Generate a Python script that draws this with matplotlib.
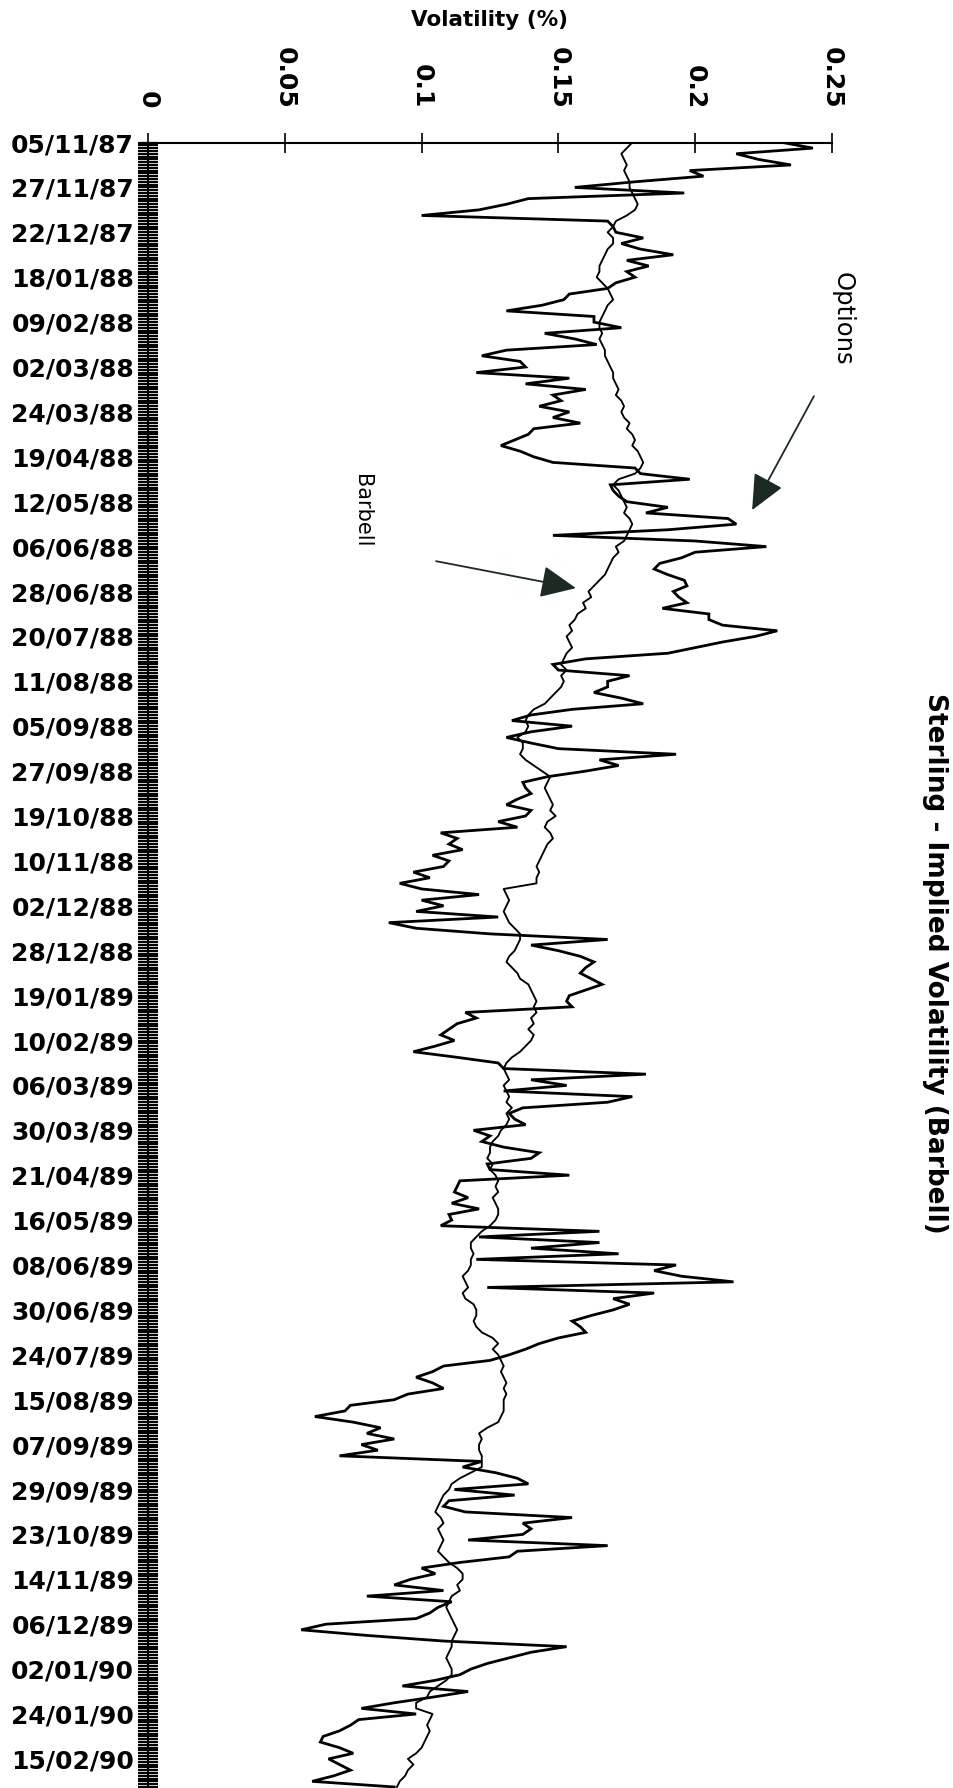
import numpy as np
import matplotlib
matplotlib.use("Agg")
import matplotlib.pyplot as plt
from matplotlib.ticker import FixedLocator, MultipleLocator

plt.rcParams['font.family'] = ['DejaVu Sans']

# ---------------- data (sampled every 2 trading days) ----------------
date_labels = ["05/11/87", "27/11/87", "22/12/87", "18/01/88", "09/02/88", "02/03/88",
               "24/03/88", "19/04/88", "12/05/88", "06/06/88", "28/06/88", "20/07/88",
               "11/08/88", "05/09/88", "27/09/88", "19/10/88", "10/11/88", "02/12/88",
               "28/12/88", "19/01/89", "10/02/89", "06/03/89", "30/03/89", "21/04/89",
               "16/05/89", "08/06/89", "30/06/89", "24/07/89", "15/08/89", "07/09/89",
               "29/09/89", "23/10/89", "14/11/89", "06/12/89", "02/01/90", "24/01/90",
               "15/02/90"]

value_ticks = [0, 0.05, 0.1, 0.15, 0.2, 0.25]
value_tick_labels = ["0", "0.05", "0.1", "0.15", "0.2", "0.25"]

options = [
    0.232, 0.243, 0.215, 0.223, 0.235, 0.198, 0.203, 0.178, 0.156, 0.196,
    0.139, 0.131, 0.121, 0.100, 0.168, 0.170, 0.171, 0.181, 0.173, 0.180,
    0.192, 0.175, 0.183, 0.175, 0.178, 0.171, 0.168, 0.154, 0.152, 0.144,
    0.131, 0.163,
    0.163, 0.173, 0.145, 0.156, 0.164, 0.131, 0.122, 0.136,
    0.138, 0.120, 0.154, 0.138, 0.160, 0.148, 0.151, 0.143, 0.154, 0.148,
    0.158, 0.141, 0.139, 0.134, 0.129, 0.136, 0.141, 0.148, 0.178, 0.180,
    0.198, 0.169, 0.170, 0.172,
    0.175, 0.190, 0.182, 0.212, 0.215, 0.190,
    0.148, 0.200, 0.226, 0.200, 0.195, 0.187, 0.185, 0.190, 0.196, 0.197,
    0.192, 0.194, 0.197, 0.188, 0.205, 0.205, 0.210, 0.230, 0.222, 0.210,
    0.200, 0.190, 0.160, 0.148, 0.150, 0.176,
    0.168, 0.168, 0.163, 0.173,
    0.181, 0.155, 0.140, 0.133, 0.155, 0.140, 0.131, 0.140, 0.150, 0.193,
    0.165, 0.172, 0.160, 0.146, 0.137, 0.138, 0.140, 0.135, 0.131, 0.140,
    0.138, 0.128, 0.135, 0.107, 0.113, 0.110, 0.115, 0.104,
    0.110, 0.108,
    0.097, 0.103, 0.092, 0.100, 0.121, 0.100, 0.108, 0.098, 0.128, 0.088,
    0.098, 0.125, 0.168, 0.140, 0.150, 0.158, 0.163, 0.160, 0.158, 0.162,
    0.166, 0.160, 0.154, 0.153, 0.155, 0.116, 0.120, 0.113, 0.110, 0.107,
    0.112, 0.105, 0.097, 0.113, 0.128, 0.130, 0.182, 0.140, 0.153, 0.130,
    0.177, 0.168, 0.137, 0.132, 0.134, 0.138, 0.119, 0.125, 0.122, 0.130,
    0.143, 0.140, 0.124, 0.125, 0.154, 0.114, 0.113, 0.112, 0.117, 0.111,
    0.121,
    0.110, 0.111, 0.107, 0.165, 0.121, 0.165, 0.140, 0.172, 0.120,
    0.193, 0.185, 0.195, 0.214, 0.124, 0.185, 0.170, 0.176, 0.170, 0.162,
    0.155, 0.158, 0.160, 0.150, 0.143, 0.138, 0.132, 0.125, 0.108, 0.104,
    0.098, 0.104, 0.108, 0.095, 0.090,
    0.074, 0.072, 0.061, 0.075, 0.085,
    0.080, 0.090, 0.078, 0.084, 0.070, 0.122, 0.115, 0.127, 0.135, 0.139,
    0.112, 0.134, 0.110, 0.108, 0.116, 0.155, 0.137, 0.140, 0.137, 0.117,
    0.168, 0.135, 0.132, 0.114, 0.100, 0.105, 0.096,
    0.090, 0.108, 0.080,
    0.111, 0.106, 0.103, 0.098, 0.065, 0.056, 0.080, 0.108, 0.153, 0.140,
    0.132, 0.124, 0.118, 0.114, 0.105, 0.093, 0.117, 0.104, 0.090, 0.078,
    0.098, 0.077, 0.074, 0.070, 0.064, 0.063, 0.070, 0.075, 0.066, 0.070,
    0.074, 0.068, 0.060, 0.090,
]

barbell = [
    0.177, 0.175, 0.173, 0.174, 0.175, 0.174, 0.175, 0.176, 0.176, 0.177,
    0.178, 0.179, 0.178, 0.175, 0.171, 0.170, 0.168, 0.170, 0.170, 0.168,
    0.167, 0.166, 0.165, 0.165, 0.164, 0.166, 0.168, 0.169, 0.170, 0.168,
    0.167, 0.166,
    0.165, 0.165, 0.166, 0.165, 0.166, 0.167, 0.167, 0.168,
    0.169, 0.170, 0.170, 0.171, 0.172, 0.171, 0.173, 0.174, 0.173, 0.174,
    0.176, 0.175, 0.177, 0.178, 0.177, 0.179, 0.180, 0.181, 0.180, 0.178,
    0.172, 0.170, 0.172, 0.173,
    0.174, 0.175, 0.174, 0.176, 0.177, 0.176,
    0.175, 0.174, 0.171, 0.172, 0.170, 0.169, 0.168, 0.167, 0.165, 0.163,
    0.161, 0.162, 0.159, 0.160, 0.157, 0.156, 0.154, 0.155, 0.153, 0.154,
    0.155, 0.153, 0.152, 0.151, 0.153, 0.151,
    0.152, 0.151, 0.149, 0.147,
    0.145, 0.141, 0.139, 0.138, 0.139, 0.138, 0.135, 0.137, 0.137, 0.136,
    0.138, 0.141, 0.144, 0.147, 0.146, 0.145, 0.146, 0.147, 0.148, 0.147,
    0.149, 0.146, 0.145, 0.147, 0.148, 0.146, 0.145, 0.144,
    0.143, 0.142,
    0.143, 0.142, 0.142, 0.130, 0.131, 0.132, 0.131, 0.130, 0.131, 0.132,
    0.134, 0.136, 0.136, 0.135, 0.134, 0.132, 0.131, 0.133, 0.135, 0.136,
    0.139, 0.140, 0.141, 0.142, 0.141, 0.142, 0.140, 0.141, 0.139, 0.141,
    0.140, 0.138, 0.136, 0.133, 0.131, 0.130, 0.131, 0.132, 0.130, 0.131,
    0.132, 0.131, 0.133, 0.131, 0.132, 0.131, 0.129, 0.128, 0.126, 0.125,
    0.125, 0.124, 0.126, 0.125, 0.127, 0.128, 0.127, 0.128, 0.126, 0.127,
    0.128,
    0.128, 0.127, 0.125, 0.122, 0.120, 0.118, 0.118, 0.119, 0.118,
    0.118, 0.117, 0.115, 0.116, 0.117, 0.115, 0.116, 0.119, 0.120, 0.120,
    0.119, 0.120, 0.122, 0.126, 0.128, 0.126, 0.128, 0.129, 0.130, 0.129,
    0.130, 0.131, 0.130, 0.131, 0.130,
    0.130, 0.130, 0.129, 0.128, 0.124,
    0.121, 0.122, 0.121, 0.121, 0.122, 0.122, 0.122, 0.118, 0.114, 0.111,
    0.110, 0.108, 0.107, 0.106, 0.105, 0.107, 0.108, 0.106, 0.107, 0.108,
    0.107, 0.106, 0.108, 0.110, 0.113, 0.115, 0.115,
    0.113, 0.114, 0.111,
    0.110, 0.109, 0.110, 0.111, 0.112, 0.113, 0.112, 0.111, 0.111, 0.110,
    0.109, 0.110, 0.111, 0.111, 0.109, 0.106, 0.103, 0.102, 0.098, 0.098,
    0.104, 0.103, 0.102, 0.103, 0.102, 0.101, 0.100, 0.098, 0.095, 0.097,
    0.095, 0.094, 0.092, 0.091,
]

DAYS_PER_SAMPLE = 2
DAYS_PER_LABEL = 16

# ---------------- figure ----------------
W, H = 954, 1788
fig = plt.figure(figsize=(W / 100, H / 100), dpi=100)
fig.patch.set_facecolor("white")

ax_left, ax_right, ax_top = 148 / W, 832 / W, 1 - 142.5 / H
ax = fig.add_axes([ax_left, 0.0, ax_right - ax_left, ax_top])

t_opt = np.arange(len(options)) * DAYS_PER_SAMPLE
t_bar = np.arange(len(barbell)) * DAYS_PER_SAMPLE
ax.plot(options, t_opt, color="black", lw=2.0, solid_joinstyle="miter")
ax.plot(barbell, t_bar, color="black", lw=1.35)

px_per_day = 44.9 / DAYS_PER_LABEL
ax.set_ylim((H - 142.5) / px_per_day, 0)
ax.set_xlim(0, 0.25)

# value axis on top
ax.xaxis.tick_top()
ax.xaxis.set_major_locator(FixedLocator(value_ticks))
ax.set_xticklabels(value_tick_labels, rotation=-90, fontsize=18, fontweight="bold")
ax.tick_params(axis="x", which="major", direction="inout", length=14.5, width=1.2,
               pad=17, top=True, bottom=False)
for lab in ax.get_xticklabels():
    lab.set_va("bottom")
    lab.set_ha("center")

# date axis on left
label_pos = np.arange(len(date_labels)) * DAYS_PER_LABEL
ax.yaxis.set_major_locator(FixedLocator(label_pos))
ax.set_yticklabels(date_labels, fontsize=18, fontweight="bold")
ax.yaxis.set_minor_locator(MultipleLocator(1))
ax.tick_params(axis="y", which="both", direction="inout", length=15, width=1.6,
               left=True, right=False)
ax.tick_params(axis="y", which="major", pad=2.5)

for side in ["right", "bottom"]:
    ax.spines[side].set_visible(False)
ax.spines["top"].set_linewidth(1.5)
ax.spines["left"].set_linewidth(1.5)

# arrows and annotations
arrow_kw = dict(arrowstyle="-|>,head_length=1.1,head_width=0.5", color="#1c2a24",
                lw=1.3, mutation_scale=20, shrinkA=0, shrinkB=0)
ax.annotate("", xy=(0.2208, 131), xytext=(0.2434, 90.4), arrowprops=arrow_kw)
ax.annotate("", xy=(0.1564, 158.8), xytext=(0.1053, 149.2), arrowprops=arrow_kw)

fig.text(843 / W, 1 - 319 / H, "Options", rotation=-90, ha="center", va="center",
         fontsize=17.5)
fig.text(362 / W, 1 - 511 / H, "Barbell", rotation=-90, ha="center", va="center",
         fontsize=15)
fig.text(490 / W, 1 - 20 / H, "Volatility (%)", ha="center", va="center",
         fontsize=15.5, fontweight="bold")
fig.text(935 / W, 1 - 963 / H, "Sterling - Implied Volatility (Barbell)", rotation=-90,
         ha="center", va="center", fontsize=19, fontweight="bold")

fig.savefig("out.png", dpi=100)
